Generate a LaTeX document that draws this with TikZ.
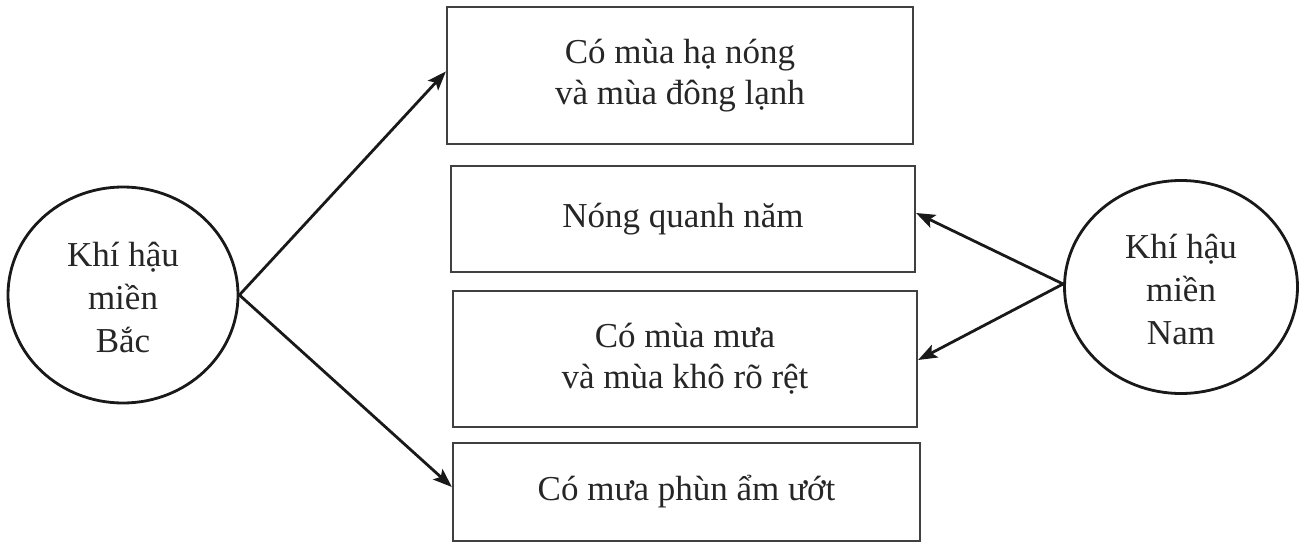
\documentclass[tikz,border=0pt]{standalone}
\usepackage{fontspec}
\setmainfont{Liberation Serif}
\usetikzlibrary{arrows.meta,shapes.geometric}
\begin{document}
\begin{tikzpicture}[x=1pt,y=-1pt,
  txt/.style={font=\fontsize{35}{41}\selectfont, align=center, text=black!85},
  box/.style={txt, draw=black!75, line width=2.2pt, rectangle, inner sep=0pt},
  ring/.style={draw=black!90, line width=2.8pt, ellipse, inner sep=0pt},
  arr/.style={line width=2.8pt, draw=black!90, -{Stealth[length=19pt,width=14pt,inset=4pt]}}]
\useasboundingbox (0,0) rectangle (1307,543);
\node[box, minimum width=466pt, minimum height=137pt] (b1) at (680,75.5) {Có mùa hạ nóng\\và mùa đông lạnh};
\node[box, minimum width=464pt, minimum height=106pt] (b2) at (683,219) {Nóng quanh năm};
\node[box, minimum width=464pt, minimum height=136pt] (b3) at (685,359) {Có mùa mưa\\và mùa khô rõ rệt};
\node[box, minimum width=467pt, minimum height=98pt] (b4) at (686.5,492) {Có mưa phùn ẩm ướt};
\node[ring, minimum width=230pt, minimum height=216pt] (L) at (123,295) {};
\node[txt, font=\fontsize{35}{43}\selectfont] (Lt) at (123,297) {Khí hậu\\miền\\Bắc};
\node[ring, minimum width=233pt, minimum height=213pt] (R) at (1181,287) {};
\node[txt, font=\fontsize{35}{43}\selectfont] (Rt) at (1181,289) {Khí hậu\\miền\\Nam};
\coordinate (Lp) at (L.east);
\coordinate (Rp) at ([yshift=3pt]R.west);
\draw[arr] (Lp) -- ([yshift=4pt]b1.west);
\draw[arr] (Lp) -- ([yshift=5pt]b4.west);
\draw[arr] (Rp) -- ([yshift=6pt]b2.east);
\draw[arr] (Rp) -- ([yshift=-1pt]b3.east);
\end{tikzpicture}
\end{document}
